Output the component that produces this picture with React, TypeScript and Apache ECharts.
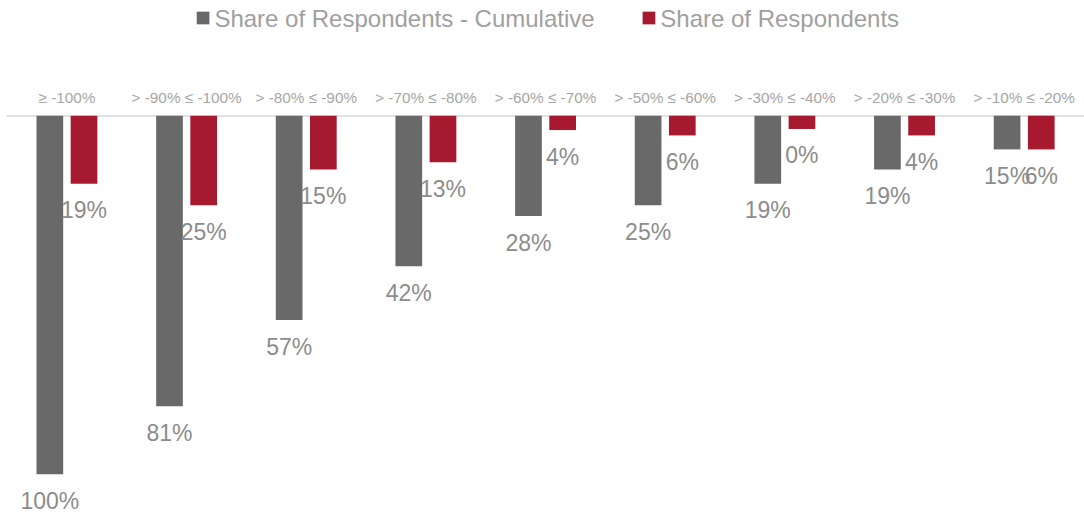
import React, { useEffect, useRef } from "react";
import * as echarts from "echarts";

const categories = [
  "≥ -100%",
  "> -90% ≤ -100%",
  "> -80% ≤ -90%",
  "> -70% ≤ -80%",
  "> -60% ≤ -70%",
  "> -50% ≤ -60%",
  "> -30% ≤ -40%",
  "> -20% ≤ -30%",
  "> -10% ≤ -20%",
];
const cumulativeValues = [100, 81, 57, 42, 28, 25, 19, 15, 9.4];
const shareValues = [19, 25, 15, 13, 4, 5.5, 3.7, 5.5, 9.4];
const cumulativeLabels = ["100%", "81%", "57%", "42%", "28%", "25%", "19%", "19%", "15%"];
const shareLabels = ["19%", "25%", "15%", "13%", "4%", "6%", "0%", "4%", "6%"];

const FONT = "'Liberation Sans', Arial, sans-serif";

export default function App() {
  const ref = useRef<HTMLDivElement>(null);
  useEffect(() => {
    if (!ref.current) return;
    const chart = echarts.init(ref.current, null, { renderer: "svg" });
    chart.setOption({
      animation: false,
      textStyle: { fontFamily: FONT },
      legend: {
        top: 1,
        left: 191.7,
        itemWidth: 12.7,
        itemHeight: 12.7,
        itemGap: 48,
        icon: "rect",
        textStyle: { color: "#a0a0a0", fontSize: 24, fontFamily: FONT },
        data: ["Share of Respondents - Cumulative", "Share of Respondents"],
      },
      grid: { left: 7.1, right: -4.4, top: 115.7, bottom: 38.7, containLabel: false },
      xAxis: {
        type: "category",
        position: "top",
        data: categories,
        axisLine: { show: true, lineStyle: { color: "#d9d9d9", width: 1.5 } },
        axisTick: { show: false },
        axisLabel: {
          interval: 0,
          color: "#a6a6a6",
          fontSize: 15.3,
          margin: 11,
          fontFamily: FONT,
        },
      },
      yAxis: {
        type: "value",
        inverse: true,
        min: 0,
        max: 100,
        show: false,
        splitLine: { show: false },
      },
      series: [
        {
          name: "Share of Respondents - Cumulative",
          type: "bar",
          data: cumulativeValues,
          barWidth: 26.7,
          barGap: "28%",
          itemStyle: { color: "#686968" },
          label: {
            show: true,
            position: "bottom",
            distance: 15,
            color: "#8c8c8c",
            fontSize: 23,
            fontFamily: FONT,
            formatter: (p: any) => cumulativeLabels[p.dataIndex],
          },
        },
        {
          name: "Share of Respondents",
          type: "bar",
          data: shareValues,
          barWidth: 26.7,
          barGap: "28%",
          itemStyle: { color: "#a6192e" },
          label: {
            show: true,
            position: "bottom",
            distance: 15,
            color: "#8c8c8c",
            fontSize: 23,
            fontFamily: FONT,
            formatter: (p: any) => shareLabels[p.dataIndex],
          },
        },
      ],
    });
    return () => chart.dispose();
  }, []);
  return (
    <div
      ref={ref}
      style={{ position: "absolute", left: 0, top: 0, width: 1084, height: 513 }}
    />
  );
}
